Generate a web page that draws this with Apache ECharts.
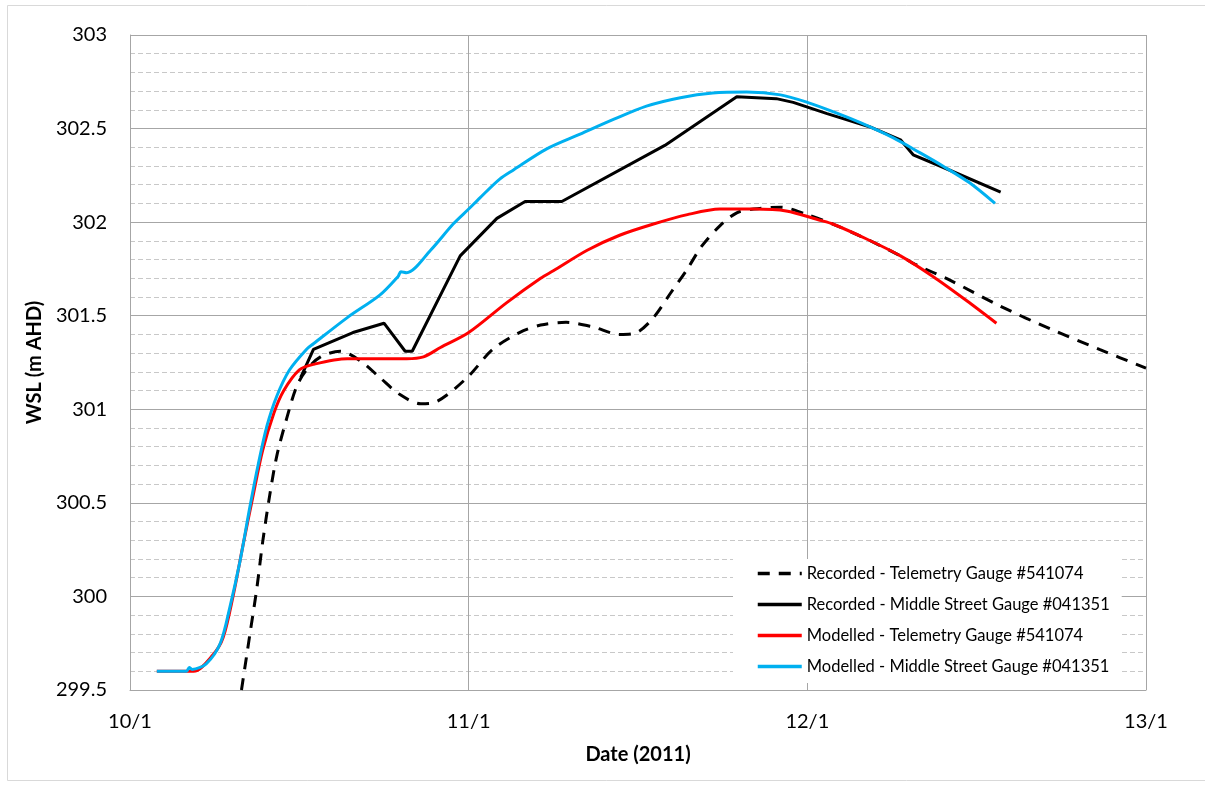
<!DOCTYPE html>
<html>
<head>
<meta charset="utf-8">
<script src="https://cdn.jsdelivr.net/npm/echarts@6/dist/echarts.min.js"></script>
<style>
  html, body { margin: 0; padding: 0; background: #fff; }
  #chart { width: 1205px; height: 785px; }
</style>
</head>
<body>
<div id="chart"></div>
<script>
// Hours since 10/1 00:00 (Jan 2011), water surface level in m AHD
const xTickLabels = ['10/1', '11/1', '12/1', '13/1'];

const seriesNames = [
  'Recorded - Telemetry Gauge #541074',
  'Recorded - Middle Street Gauge #041351',
  'Modelled - Telemetry Gauge #541074',
  'Modelled - Middle Street Gauge #041351'
];

const recordedTelemetry = [
  [7.9, 299.5], [8.5, 299.8], [9.0, 300.05], [9.4, 300.29], [9.9, 300.54],
  [10.4, 300.75], [11.1, 300.95], [11.8, 301.12], [12.5, 301.21], [13.5, 301.28],
  [14.9, 301.31], [16.3, 301.26], [17.7, 301.17], [19.1, 301.08], [20.6, 301.03],
  [21.7, 301.04], [23.9, 301.17], [25.7, 301.32], [27.6, 301.41], [29.1, 301.45],
  [30.9, 301.465], [32.8, 301.44], [34.7, 301.40], [35.9, 301.41], [37.1, 301.49],
  [38.3, 301.62], [39.5, 301.75], [40.5, 301.87], [41.8, 301.98], [43.0, 302.05],
  [44.2, 302.07], [46.1, 302.08], [48.0, 302.04], [49.8, 301.99], [52.2, 301.91],
  [54.6, 301.82], [55.5, 301.78], [58.1, 301.69], [61.7, 301.55], [65.2, 301.43],
  [68.7, 301.32], [72.0, 301.22]
];

const recordedMiddleStreet = [
  [12.1, 301.17], [13.0, 301.32], [15.8, 301.41], [18.0, 301.46], [19.5, 301.31],
  [20.0, 301.31], [23.4, 301.82], [26.0, 302.02], [28.0, 302.11], [30.6, 302.11],
  [37.9, 302.41], [43.0, 302.67], [45.8, 302.66], [47.0, 302.64], [49.4, 302.58],
  [52.4, 302.51], [54.6, 302.44], [55.5, 302.36], [57.4, 302.30], [61.7, 302.16]
];

const modelledTelemetry = [
  [1.9, 299.6], [4.5, 299.6], [5.9, 299.69], [6.6, 299.78], [7.3, 300.0],
  [8.0, 300.27], [8.7, 300.53], [9.4, 300.78], [10.2, 300.98], [10.9, 301.10],
  [12.0, 301.21], [13.0, 301.24], [15.4, 301.27], [17.7, 301.27], [19.6, 301.27],
  [20.8, 301.28], [22.0, 301.33], [24.0, 301.41], [26.7, 301.57], [29.1, 301.70],
  [30.0, 301.74], [32.4, 301.85], [34.7, 301.93], [37.1, 301.99], [39.5, 302.04],
  [41.8, 302.07], [44.2, 302.07], [46.5, 302.06], [48.9, 302.01], [49.8, 301.99],
  [52.2, 301.91], [54.6, 301.82], [56.9, 301.71], [59.3, 301.58], [61.4, 301.46]
];

const modelledMiddleStreet = [
  [1.9, 299.6], [4.0, 299.6], [4.2, 299.62], [4.4, 299.61], [5.4, 299.64],
  [6.4, 299.75], [7.1, 299.95], [7.8, 300.19], [8.5, 300.48], [9.1, 300.71],
  [9.7, 300.91], [10.4, 301.07], [11.3, 301.21], [12.5, 301.32], [13.0, 301.35],
  [15.4, 301.49], [17.7, 301.61], [19.0, 301.71], [19.2, 301.735], [19.6, 301.73],
  [21.3, 301.85], [22.9, 301.99], [24.0, 302.07], [24.8, 302.13], [26.2, 302.23],
  [27.2, 302.28], [29.5, 302.39], [31.9, 302.47], [34.3, 302.55], [36.6, 302.62],
  [39.0, 302.665], [41.3, 302.69], [43.7, 302.695], [46.1, 302.68], [48.0, 302.64],
  [50.0, 302.585], [51.8, 302.53], [54.1, 302.45], [56.0, 302.37], [57.6, 302.30],
  [59.5, 302.21], [61.3, 302.10]
];

const FONT = 'Lato, "Liberation Sans", sans-serif';
const chart = echarts.init(document.getElementById('chart'), null, { renderer: 'canvas' });

function lineSeries(name, data, color, opts) {
  return Object.assign({
    name: name,
    type: 'line',
    data: data,
    symbol: 'none',
    smooth: 0.3,
    lineStyle: { color: color, width: 3 },
    itemStyle: { color: color },
    emphasis: { disabled: true },
    animation: false
  }, opts || {});
}

chart.setOption({
  backgroundColor: '#fff',
  animation: false,
  textStyle: { fontFamily: FONT },
  graphic: [{
    type: 'rect',
    shape: { x: 7.5, y: 5.5, width: 1205, height: 775 },
    style: { fill: 'none', stroke: '#d9d9d9', lineWidth: 1 },
    silent: true,
    z: -10
  }],
  grid: { left: 130, top: 35, right: 59, bottom: 95, containLabel: false },
  xAxis: {
    type: 'value',
    min: 0, max: 72, interval: 24,
    name: 'Date (2011)',
    nameLocation: 'middle',
    nameGap: 55,
    nameTextStyle: { fontFamily: FONT, fontWeight: 'bold', fontSize: 20, color: '#000' },
    axisLine: { show: true, lineStyle: { color: '#a6a6a6', width: 1 } },
    axisTick: { show: false },
    axisLabel: {
      margin: 22,
      fontSize: 20,
      color: '#000',
      fontFamily: FONT,
      formatter: v => xTickLabels[Math.round(v / 24)]
    },
    splitLine: { show: true, lineStyle: { color: '#a6a6a6', width: 1 } }
  },
  yAxis: {
    type: 'value',
    min: 299.5, max: 303, interval: 0.5,
    name: 'WSL (m AHD)',
    nameLocation: 'middle',
    nameGap: 79,
    nameTextStyle: { fontFamily: FONT, fontWeight: 'bold', fontSize: 20, color: '#000' },
    axisLine: { show: true, lineStyle: { color: '#a6a6a6', width: 1 } },
    axisTick: { show: false },
    axisLabel: {
      margin: 23,
      fontSize: 20,
      color: '#000',
      fontFamily: FONT,
      formatter: v => String(Math.round(v * 10) / 10)
    },
    splitLine: { show: true, lineStyle: { color: '#a6a6a6', width: 1 } },
    minorTick: { show: false, splitNumber: 5 },
    minorSplitLine: { show: true, lineStyle: { color: '#c8c8c8', width: 1, type: [5, 3] } }
  },
  legend: {
    orient: 'vertical',
    left: 733,
    top: 559,
    backgroundColor: '#fff',
    padding: [6, 12, 8, 23],
    itemWidth: 44,
    itemHeight: 14,
    itemGap: 14,
    itemStyle: { opacity: 0 },
    lineStyle: { width: 3.5 },
    textStyle: { fontFamily: FONT, fontSize: 16.5, color: '#000' },
    data: seriesNames
  },
  series: [
    lineSeries(seriesNames[0], recordedTelemetry, '#000000', {
      lineStyle: { color: '#000000', width: 3, type: [12, 9] }
    }),
    lineSeries(seriesNames[1], recordedMiddleStreet, '#000000', { smooth: false }),
    lineSeries(seriesNames[2], modelledTelemetry, '#ff0000'),
    lineSeries(seriesNames[3], modelledMiddleStreet, '#00b0f0')
  ]
});
</script>
</body>
</html>
